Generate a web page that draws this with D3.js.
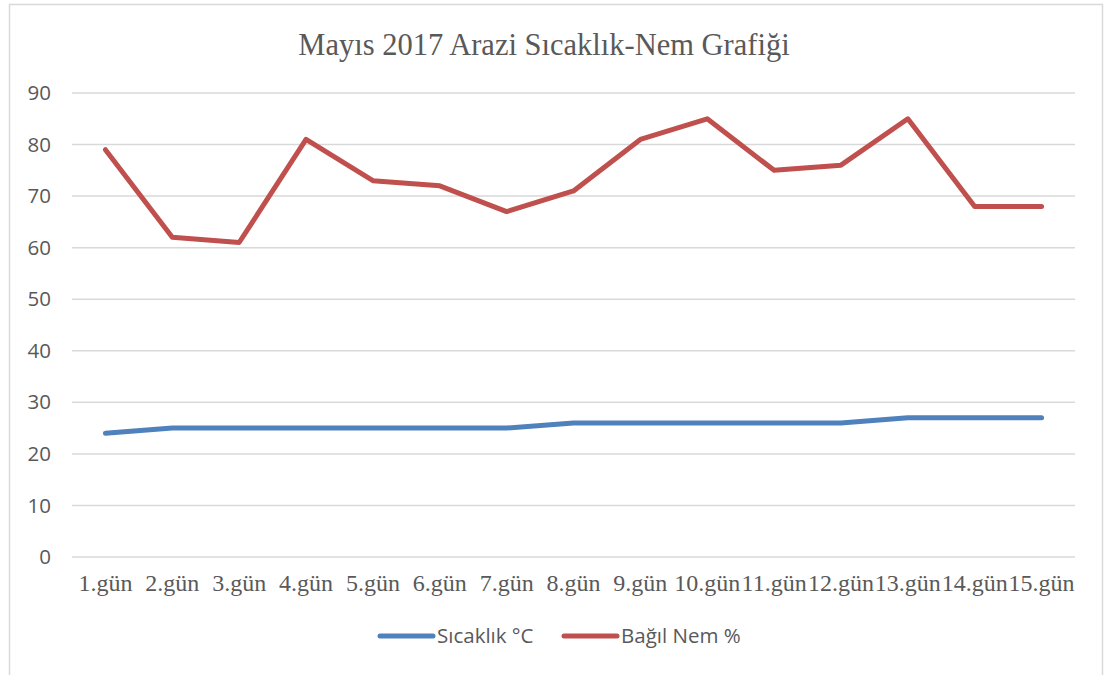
<html>
<head>
  <meta charset="utf-8">
  <title>Mayıs 2017 Arazi Sıcaklık-Nem Grafiği</title>
  <script src="https://d3js.org/d3.v7.min.js"></script>
  <style>
    body { margin: 0; background: #fff; }
    .chart { width: 1105px; height: 675px; }
  </style>
</head>
<body>
  <div class="chart"></div>
<script>
var days = ["1.gün","2.gün","3.gün","4.gün","5.gün","6.gün","7.gün","8.gün","9.gün","10.gün","11.gün","12.gün","13.gün","14.gün","15.gün"];
var sicaklik = [24,25,25,25,25,25,25,26,26,26,26,26,27,27,27];
var nem = [79,62,61,81,73,72,67,71,81,85,75,76,85,68,68];
var yTicks = [0,10,20,30,40,50,60,70,80,90];
var seriesNames = ["Sıcaklık °C", "Bağıl Nem %"];
var seriesColors = ["#4f81bd", "#c0504d"];

var width = 1105, height = 675;
// plot area (note: "top" is reserved on window, so use plotTop)
var plotLeft = 72, plotRight = 1075, plotTop = 93, plotBottom = 557;

var svg = d3.select(".chart")
  .append("svg")
  .attr("width", width)
  .attr("height", height);

// outer chart frame
svg.append("rect")
  .attr("x", 9.5).attr("y", 4.5)
  .attr("width", 1093).attr("height", 680)
  .attr("fill", "#fff")
  .attr("stroke", "#d9d9d9")
  .attr("stroke-width", 1.5);

var x = d3.scaleBand().domain(days).range([plotLeft, plotRight]);
var y = d3.scaleLinear().domain([0, 90]).range([plotBottom, plotTop]);

// gridlines
svg.append("g")
  .selectAll("line")
  .data(yTicks)
  .enter()
  .append("line")
  .attr("x1", plotLeft).attr("x2", plotRight)
  .attr("y1", function (d) { return y(d); })
  .attr("y2", function (d) { return y(d); })
  .attr("stroke", "#d9d9d9")
  .attr("stroke-width", 1.5);

// y labels
var yAxis = svg.append("g")
  .attr("transform", "translate(" + (plotLeft - 21) + ",0)")
  .call(d3.axisLeft(y).tickValues(yTicks).tickSize(0).tickPadding(0));
yAxis.select(".domain").remove();
yAxis.selectAll("text")
  .attr("fill", "#595959")
  .style("font-family", "'Open Sans', 'Liberation Sans', sans-serif")
  .style("font-size", "20.5px");

// x labels
var xAxis = svg.append("g")
  .attr("transform", "translate(0," + plotBottom + ")")
  .call(d3.axisBottom(x).tickSize(0).tickPadding(17));
xAxis.select(".domain").remove();
xAxis.selectAll("text")
  .attr("fill", "#595959")
  .style("font-family", "'Liberation Serif', 'Times New Roman', serif")
  .style("font-size", "24px");

// lines
var line = d3.line()
  .x(function (d, i) { return x(days[i]) + x.bandwidth() / 2; })
  .y(function (d) { return y(d); });

[sicaklik, nem].forEach(function (s, k) {
  svg.append("path")
    .datum(s)
    .attr("fill", "none")
    .attr("stroke", seriesColors[k])
    .attr("stroke-width", 5)
    .attr("stroke-linecap", "round")
    .attr("stroke-linejoin", "round")
    .attr("d", line);
});

// title
svg.append("text")
  .attr("x", 544).attr("y", 55)
  .attr("text-anchor", "middle")
  .attr("fill", "#595959")
  .style("font-family", "'Liberation Serif', 'Times New Roman', serif")
  .style("font-size", "30.5px")
  .text("Mayıs 2017 Arazi Sıcaklık-Nem Grafiği");

// legend
var legendX = [380, 564];
var legend = svg.append("g")
  .selectAll("g")
  .data(seriesNames)
  .enter()
  .append("g")
  .attr("transform", function (d, i) { return "translate(" + legendX[i] + ",636)"; });
legend.append("line")
  .attr("x1", 0).attr("x2", 53)
  .attr("stroke", function (d, i) { return seriesColors[i]; })
  .attr("stroke-width", 5)
  .attr("stroke-linecap", "round");
legend.append("text")
  .attr("x", 57).attr("y", 7)
  .attr("fill", "#595959")
  .style("font-family", "'Open Sans', 'Liberation Sans', sans-serif")
  .style("font-size", "20.5px")
  .text(function (d) { return d; });
</script>
</body>
</html>
